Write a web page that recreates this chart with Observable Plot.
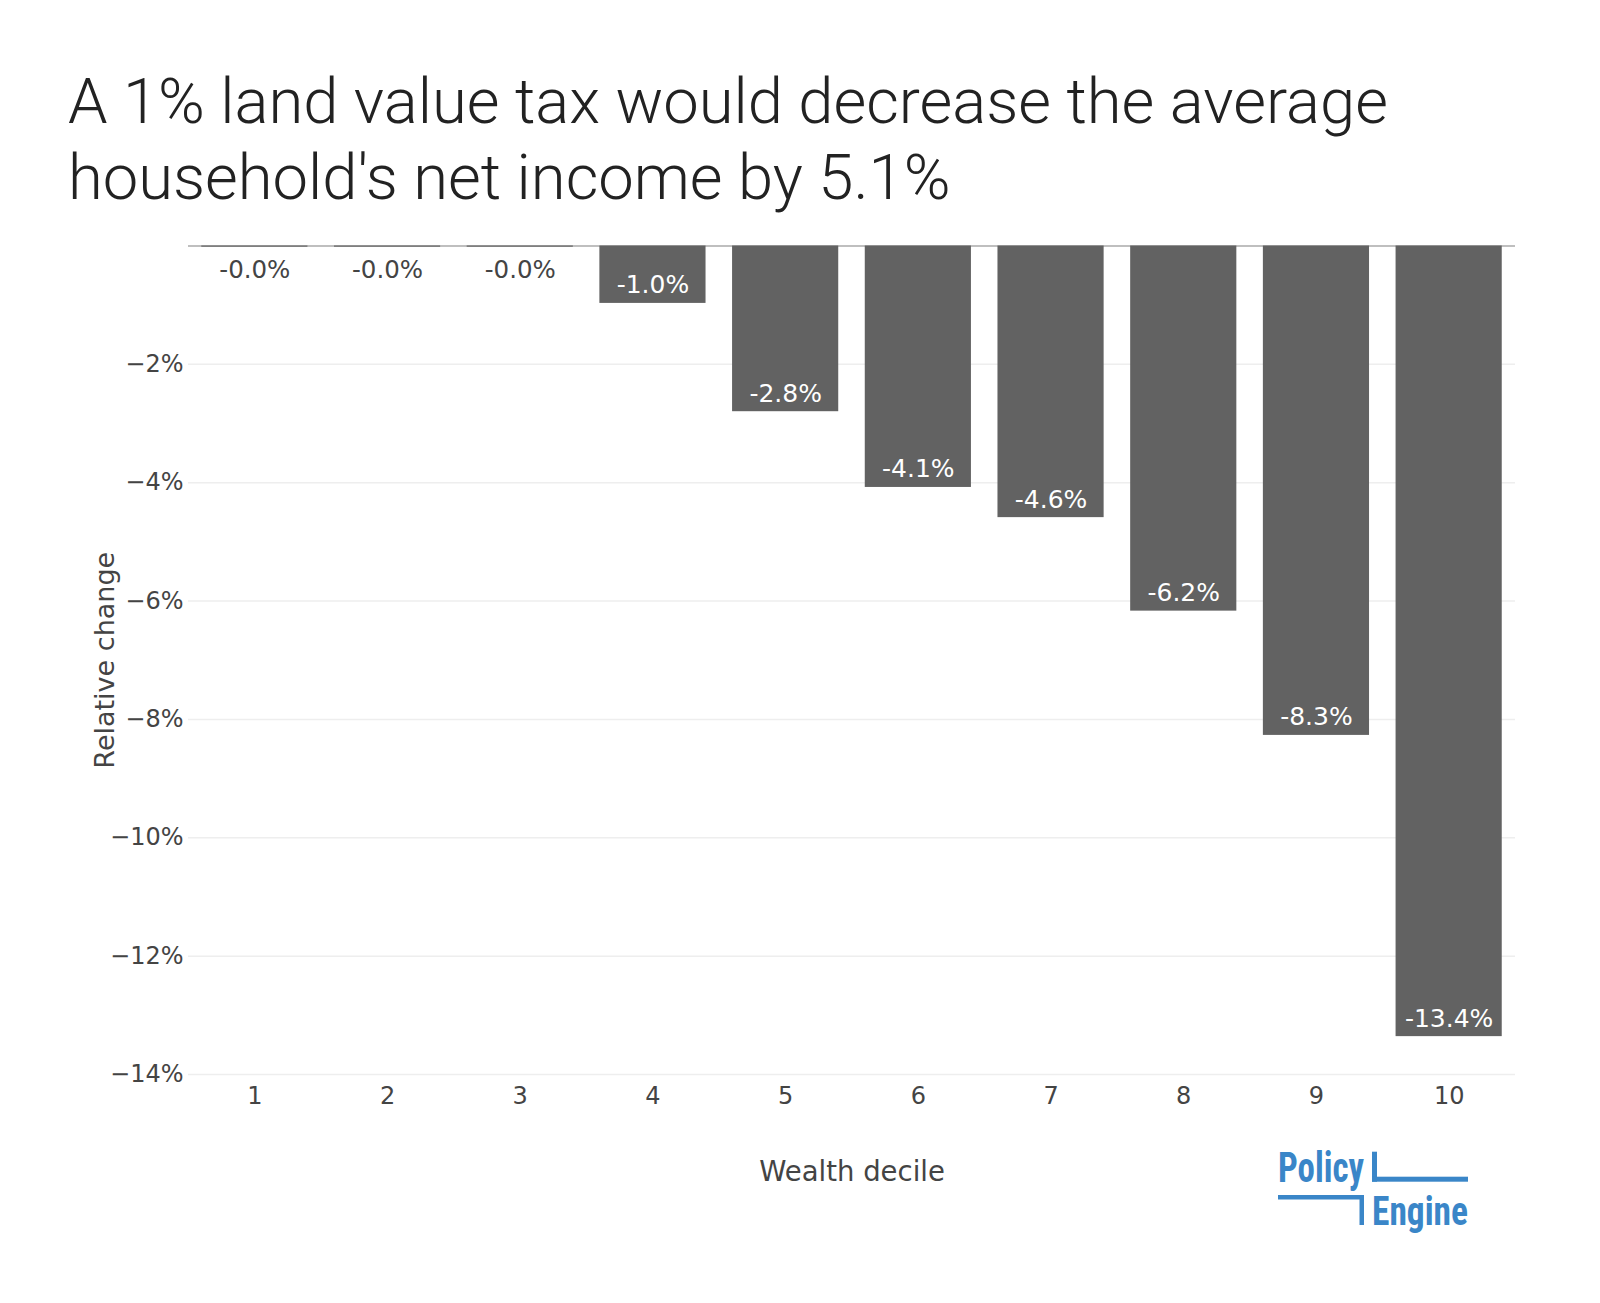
<!DOCTYPE html>
<html>
<head>
<meta charset="utf-8">
<script src="https://cdn.jsdelivr.net/npm/d3@7"></script>
<script src="https://cdn.jsdelivr.net/npm/@observablehq/plot@0.6"></script>
<style>
  html, body { margin: 0; padding: 0; background: #fff; }
  #page { width: 1600px; height: 1303px; position: relative; overflow: hidden; }
  #title {
    height: 210px; box-sizing: border-box; padding: 63px 0 0 68px; margin: 0;
    font-family: Roboto, "Noto Sans", sans-serif; font-weight: 300;
    font-size: 63.3px; line-height: 76px; color: #222;
  }
  #chart svg { display: block; }
</style>
</head>
<body>
<div id="page">
  <h1 id="title">A 1% land value tax would decrease the average<br>household's net income by 5.1%</h1>
  <div id="chart"></div>
</div>
<script>
// ---- data ----
const deciles = [1, 2, 3, 4, 5, 6, 7, 8, 9, 10];
const relativeChange = [-0.02, -0.02, -0.02, -0.97, -2.80, -4.08, -4.59, -6.17, -8.27, -13.36];
const yTicks = [-14, -12, -10, -8, -6, -4, -2];
const xTitle = "Wealth decile";
const yTitle = "Relative change";

const rows = deciles.map((d, i) => ({
  decile: d,
  value: relativeChange[i],
  label: relativeChange[i].toFixed(1) + "%"
}));
const inside = rows.filter(r => Math.abs(r.value) > 0.5);
const outside = rows.filter(r => Math.abs(r.value) <= 0.5);

const blue = "#3a86c8";
function logo() {
  return () => {
    const g = d3.create("svg:g").attr("fill", blue).attr("text-anchor", "start");
    const font = "'Liberation Sans Narrow', 'Roboto Condensed', Roboto, sans-serif";
    g.append("text").attr("x", 1278).attr("y", 972).attr("text-anchor", "start")
      .attr("font-family", font).attr("font-weight", 700).attr("font-size", 42)
      .attr("textLength", 86).attr("lengthAdjust", "spacingAndGlyphs").text("Policy");
    g.append("rect").attr("x", 1372).attr("y", 941.7).attr("width", 5).attr("height", 30);
    g.append("rect").attr("x", 1372).attr("y", 966.7).attr("width", 96).attr("height", 5);
    g.append("rect").attr("x", 1278).attr("y", 985).attr("width", 86).attr("height", 4.5);
    g.append("rect").attr("x", 1359.5).attr("y", 985).attr("width", 4.5).attr("height", 30);
    g.append("text").attr("x", 1372).attr("y", 1015).attr("text-anchor", "start")
      .attr("font-family", font).attr("font-weight", 700).attr("font-size", 40)
      .attr("textLength", 96).attr("lengthAdjust", "spacingAndGlyphs").text("Engine");
    return g.node();
  };
}

const chart = Plot.plot({
  width: 1600,
  height: 1093,
  marginTop: 35.5,
  marginBottom: 229,
  marginLeft: 188,
  marginRight: 85,
  style: {
    fontFamily: "'DejaVu Sans', Verdana, sans-serif",
    fontSize: "24px",
    color: "#444",
    background: "white",
    overflow: "visible"
  },
  x: { type: "band", domain: deciles, paddingInner: 0.2, paddingOuter: 0.1, round: false },
  y: { domain: [-14, 0] },
  marks: [
    Plot.gridY(yTicks, { stroke: "#eee", strokeOpacity: 1, strokeWidth: 1.5 }),
    Plot.ruleY([0], { stroke: "#aaa", strokeWidth: 1.5 }),
    Plot.barY(rows, { x: "decile", y: "value", fill: "#626262" }),
    Plot.text(inside, { x: "decile", y: "value", text: "label", fill: "white", fontSize: 25, lineAnchor: "bottom", dy: -10 }),
    Plot.text(outside, { x: "decile", y: "value", text: "label", fill: "#444", fontSize: 24.5, lineAnchor: "bottom", dy: 31 }),
    Plot.axisY({ ticks: yTicks, tickSize: 0, tickPadding: 5, label: null,
      tickFormat: d => "\u2212" + Math.abs(d) + "%" }),
    Plot.axisX({ tickSize: 0, tickPadding: 12, label: null }),
    Plot.text([xTitle], { text: d => d, frameAnchor: "bottom", textAnchor: "middle", lineAnchor: "bottom", dy: 106, fontSize: 27.5, fill: "#444" }),
    Plot.text([yTitle], { text: d => d, frameAnchor: "left", textAnchor: "middle", rotate: -90, lineAnchor: "bottom", dx: -75, fontSize: 27, fill: "#444" }),
    logo()
  ]
});
document.getElementById("chart").appendChild(chart);
</script>
</body>
</html>
